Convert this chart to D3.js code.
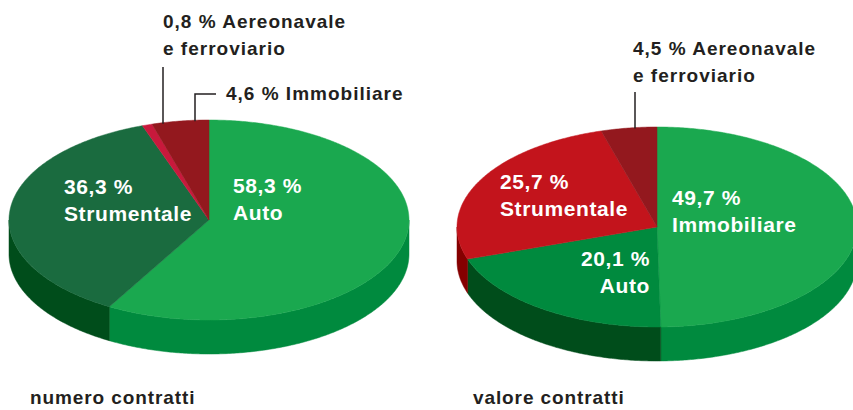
<!DOCTYPE html>
<meta charset="utf-8">
<style>
body {
  margin: 0;
  background: #fff;
}
text {
  font-family: "Liberation Sans", Arial, sans-serif;
  font-weight: bold;
}
.inner {
  fill: #fff;
  font-size: 21px;
  letter-spacing: 0.6px;
}
.note {
  fill: #231f20;
  font-size: 19px;
  letter-spacing: 1px;
}
.title {
  fill: #231f20;
  font-size: 19px;
  letter-spacing: 0.9px;
}
.leader {
  fill: none;
  stroke: #231f20;
  stroke-width: 1.5px;
}
</style>
<body>
<script src="https://d3js.org/d3.v7.min.js"></script>
<script>

var width = 853,
    height = 410;

// data
var leftCategories = ["Auto", "Strumentale", "Aereonavale e ferroviario", "Immobiliare"];
var leftValues = [58.3, 36.3, 0.8, 4.6];
var rightCategories = ["Immobiliare", "Auto", "Strumentale", "Aereonavale e ferroviario"];
var rightValues = [49.7, 20.1, 25.7, 4.5];
var titles = ["numero contratti", "valore contratti"];

// styles / layout per pie
var pies = [
  {
    categories: leftCategories,
    values: leftValues,
    title: titles[0],
    cx: 209, cy: 220, rx: 200, ry: 100, depth: 34,
    titleX: 30,
    top:  {"Auto": "#1aa84f", "Strumentale": "#1a6b3f", "Aereonavale e ferroviario": "#c8193c", "Immobiliare": "#93181e"},
    side: {"Auto": "#008a3e", "Strumentale": "#004d1b", "Aereonavale e ferroviario": "#8b0d20", "Immobiliare": "#6a0f12"},
    inner: {
      "Auto": {x: 233, y: 193, anchor: "start"},
      "Strumentale": {x: 64, y: 194, anchor: "start"}
    },
    notes: {
      "Aereonavale e ferroviario": {x: 163, y: 28, lineX: 163, lineTop: 67},
      "Immobiliare": {x: 226, y: 100, lineX: 195, lineTop: 94, elbowX: 216}
    }
  },
  {
    categories: rightCategories,
    values: rightValues,
    title: titles[1],
    cx: 657, cy: 227, rx: 200, ry: 100, depth: 34,
    titleX: 473,
    top:  {"Immobiliare": "#1aa84f", "Auto": "#008a3e", "Strumentale": "#c3141c", "Aereonavale e ferroviario": "#93181e"},
    side: {"Immobiliare": "#008a3e", "Auto": "#004d1b", "Strumentale": "#850000", "Aereonavale e ferroviario": "#6a0f12"},
    inner: {
      "Strumentale": {x: 500, y: 189, anchor: "start"},
      "Immobiliare": {x: 672, y: 205, anchor: "start"},
      "Auto": {x: 650, y: 266, anchor: "end"}
    },
    notes: {
      "Aereonavale e ferroviario": {x: 633, y: 55, lineX: 635, lineTop: 92}
    }
  }
];

var fmt = function(v) { return d3.format(".1f")(v).replace(".", ",") + " %"; };

var svg = d3.select("body").append("svg")
    .attr("width", width)
    .attr("height", height);

var pieLayout = d3.pie().sort(null).value(function(d) { return d.value; });

pies.forEach(function(p) {
  var data = p.categories.map(function(c, i) { return {name: c, value: p.values[i]}; });
  var arcs = pieLayout(data);

  var px = function(a) { return p.cx + p.rx * Math.sin(a); };
  var py = function(a) { return p.cy - p.ry * Math.cos(a); };

  function arcPoints(a0, a1) {
    var n = Math.max(2, Math.ceil((a1 - a0) / 0.01)), pts = [];
    for (var k = 0; k <= n; k++) {
      var a = a0 + (a1 - a0) * k / n;
      pts.push([px(a), py(a)]);
    }
    return pts;
  }

  var g = svg.append("g");
  var line = d3.line();

  // sides (front half only: angles between PI/2 and 3PI/2)
  arcs.forEach(function(d) {
    var a0 = Math.max(d.startAngle, Math.PI / 2),
        a1 = Math.min(d.endAngle, 3 * Math.PI / 2);
    if (a1 <= a0) return;
    var topPts = arcPoints(a0, a1);
    var botPts = topPts.map(function(q) { return [q[0], q[1] + p.depth]; }).reverse();
    g.append("path")
        .attr("d", line(topPts.concat(botPts)) + "Z")
        .attr("fill", p.side[d.data.name])
        .attr("stroke", p.side[d.data.name])
        .attr("stroke-width", 0.5);
  });

  // top faces
  arcs.forEach(function(d) {
    var pts = [[p.cx, p.cy]].concat(arcPoints(d.startAngle, d.endAngle));
    g.append("path")
        .attr("d", line(pts) + "Z")
        .attr("fill", p.top[d.data.name])
        .attr("stroke", p.top[d.data.name])
        .attr("stroke-width", 0.5);
  });

  // inner labels
  arcs.forEach(function(d) {
    var l = p.inner[d.data.name];
    if (!l) return;
    var t = g.append("text")
        .attr("class", "inner")
        .attr("text-anchor", l.anchor);
    t.append("tspan").attr("x", l.x).attr("y", l.y).text(fmt(d.data.value));
    t.append("tspan").attr("x", l.x).attr("y", l.y + 27).text(d.data.name);
  });

  // outside notes with leader lines
  arcs.forEach(function(d) {
    var n = p.notes[d.data.name];
    if (!n) return;
    var dx = (n.lineX - p.cx) / p.rx;
    var edgeY = p.cy - p.ry * Math.sqrt(1 - dx * dx);
    var pts = n.elbowX ? [[n.elbowX, n.lineTop], [n.lineX, n.lineTop], [n.lineX, edgeY + 1]]
                       : [[n.lineX, n.lineTop], [n.lineX, edgeY + 1]];
    g.append("path").attr("class", "leader").attr("d", line(pts));

    var words = d.data.name.split(" ");
    var t = g.append("text").attr("class", "note");
    if (words.length > 1) {
      t.append("tspan").attr("x", n.x).attr("y", n.y).text(fmt(d.data.value) + " " + words[0]);
      t.append("tspan").attr("x", n.x).attr("y", n.y + 27).text(words.slice(1).join(" "));
    } else {
      t.append("tspan").attr("x", n.x).attr("y", n.y).text(fmt(d.data.value) + " " + d.data.name);
    }
  });

  svg.append("text")
      .attr("class", "title")
      .attr("x", p.titleX)
      .attr("y", 404)
      .text(p.title);
});

</script>
